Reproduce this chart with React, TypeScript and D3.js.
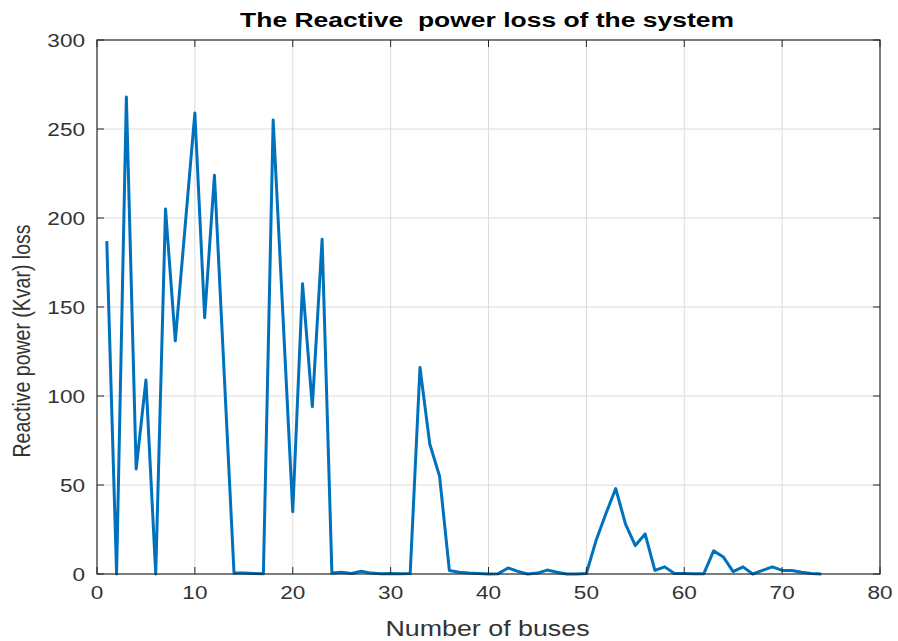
import React from "react";
import * as d3 from "d3";

// bus numbers and reactive power loss (kvar)
const buses = d3.range(1, 75);
const lossKvar = [
  187, 0, 268, 59, 109, 0, 205, 131, 195, 259,
  144, 224, 112, 0.5, 0.5, 0.3, 0.2, 255, 145, 35,
  163, 94, 188, 0.5, 1, 0.3, 1.5, 0.5, 0.2, 0.3,
  0.2, 0.3, 116, 73, 55, 2, 1, 0.5, 0.3, 0,
  0.2, 3.4, 1.5, 0, 0.5, 2.2, 1, 0, 0, 0.3,
  19, 34, 48, 28, 16, 22.5, 2, 4, 0.3, 0.3,
  0.2, 0.2, 13, 9.5, 1.3, 4, 0, 2, 4, 2,
  2, 1, 0.3, 0,
];
const xTicks = [0, 10, 20, 30, 40, 50, 60, 70, 80];
const yTicks = [0, 50, 100, 150, 200, 250, 300];

const W = 898;
const H = 641;
const left = 97, right = 880, top = 40, bottom = 574;
const stretch = 1.22;

export default function App() {
  const x = d3.scaleLinear().domain([0, 80]).range([left, right]);
  const y = d3.scaleLinear().domain([0, 300]).range([bottom, top]);
  const line = d3
    .line<number>()
    .x((d, i) => x(buses[i]))
    .y((d) => y(d));

  const axisCol = "#262626";
  const tickLen = 7;
  const font = "'Liberation Sans', Arial, Helvetica, sans-serif";

  return (
    <svg
      width={W}
      height={H}
      style={{ position: "absolute", left: 0, top: 0, background: "#fff" }}
      fontFamily={font}
    >
      {/* grid */}
      <g stroke="#dcdcdc" strokeWidth={1}>
        {xTicks.slice(1, -1).map((t) => (
          <line key={"gx" + t} x1={x(t)} x2={x(t)} y1={top} y2={bottom} />
        ))}
        {yTicks.slice(1, -1).map((t) => (
          <line key={"gy" + t} x1={left} x2={right} y1={y(t)} y2={y(t)} />
        ))}
      </g>

      {/* data line */}
      <path
        d={line(lossKvar) || ""}
        fill="none"
        stroke="#0072BD"
        strokeWidth={3}
        strokeLinejoin="round"
      />

      {/* box + ticks */}
      <rect x={left} y={top} width={right - left} height={bottom - top} fill="none" stroke={axisCol} strokeWidth={1.2} />
      <g stroke={axisCol} strokeWidth={1}>
        {xTicks.map((t) => (
          <g key={"tx" + t}>
            <line x1={x(t)} x2={x(t)} y1={bottom} y2={bottom - tickLen} />
            <line x1={x(t)} x2={x(t)} y1={top} y2={top + tickLen} />
          </g>
        ))}
        {yTicks.map((t) => (
          <g key={"ty" + t}>
            <line x1={left} x2={left + tickLen} y1={y(t)} y2={y(t)} />
            <line x1={right} x2={right - tickLen} y1={y(t)} y2={y(t)} />
          </g>
        ))}
      </g>

      {/* tick labels */}
      <g fill="#333" fontSize={18.5}>
        {xTicks.map((t) => (
          <text
            key={"lx" + t}
            transform={`translate(${x(t)},${bottom + 25}) scale(${stretch},1)`}
            textAnchor="middle"
          >
            {t}
          </text>
        ))}
        {yTicks.map((t) => (
          <text
            key={"ly" + t}
            transform={`translate(${left - 12},${y(t) + 6.5}) scale(${stretch},1)`}
            textAnchor="end"
          >
            {t}
          </text>
        ))}
      </g>

      {/* axis labels and title */}
      <text
        transform={`translate(${(left + right) / 2 - 1},${H - 5}) scale(${stretch},1)`}
        textAnchor="middle"
        fontSize={22}
        fill="#333"
      >
        Number of buses
      </text>
      <text
        transform={`translate(30,341) scale(${stretch},1) rotate(-90)`}
        textAnchor="middle"
        fontSize={19.5}
        fill="#333"
      >
        Reactive power (Kvar) loss
      </text>
      <text
        transform={`translate(487,27) scale(1.26,1)`}
        textAnchor="middle"
        fontSize={21}
        fontWeight="bold"
        fill="#000"
        style={{ whiteSpace: "pre" }}
      >
        The Reactive  power loss of the system
      </text>
    </svg>
  );
}
